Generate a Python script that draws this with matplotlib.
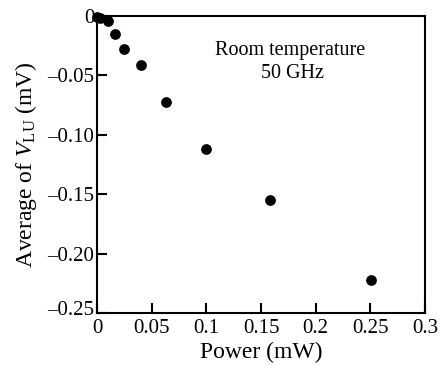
import matplotlib
matplotlib.use("Agg")
import matplotlib.pyplot as plt
from matplotlib.transforms import ScaledTranslation

# power (mW) vs average V_LU (mV)
power = [0.0, 0.0025, 0.010, 0.016, 0.025, 0.040, 0.063, 0.100, 0.158, 0.251]
v_lu = [-0.001, -0.002, -0.004, -0.015, -0.028, -0.0415, -0.072, -0.112, -0.155, -0.222]

x_ticks = [0, 0.05, 0.1, 0.15, 0.2, 0.25, 0.3]
x_labels = ["0", "0.05", "0.1", "0.15", "0.2", "0.25", "0.3"]
y_ticks = [0, -0.05, -0.10, -0.15, -0.20, -0.25]
y_labels = ["0", "\u20130.05", "\u20130.10", "\u20130.15", "\u20130.20", "\u20130.25"]

plt.rcParams['font.family'] = ['Liberation Serif', 'DejaVu Serif']
plt.rcParams['mathtext.fontset'] = 'custom'
plt.rcParams['mathtext.rm'] = 'Liberation Serif'
plt.rcParams['mathtext.it'] = 'Liberation Serif:italic'

fig = plt.figure(figsize=(4.4, 3.66), dpi=100)
ax = fig.add_axes([0.2205, 0.1448, 0.7455, 0.8115])

ax.scatter(power, v_lu, s=45, color='black', zorder=3, clip_on=False)

ax.set_xlim(0, 0.3)
ax.set_ylim(-0.25, 0)
ax.set_xticks(x_ticks)
ax.set_xticklabels(x_labels)
ax.set_yticks(y_ticks)
ax.set_yticklabels(y_labels)
ax.tick_params(direction='in', length=7, width=1.5, labelsize=15)
ax.tick_params(axis='x', pad=4)
ax.tick_params(axis='y', pad=2)
for sp in ax.spines.values():
    sp.set_linewidth(1.5)

# the bottom y label sits a bit higher so it clears the x "0"
for lab in ax.get_yticklabels():
    if lab.get_text() == y_labels[-1]:
        lab.set_transform(lab.get_transform() + ScaledTranslation(0, 5 / 100, fig.dpi_scale_trans))

ax.set_xlabel("Power (mW)", fontsize=17, labelpad=3)
ax.set_ylabel(r"Average of $V_{\mathrm{LU}}$ (mV)", fontsize=17, labelpad=6)

ax.text(0.59, 0.885, "Room temperature", transform=ax.transAxes,
        ha='center', va='center', fontsize=14.5)
ax.text(0.595, 0.805, "50 GHz", transform=ax.transAxes,
        ha='center', va='center', fontsize=14.5)

fig.savefig("out.png", dpi=100)
